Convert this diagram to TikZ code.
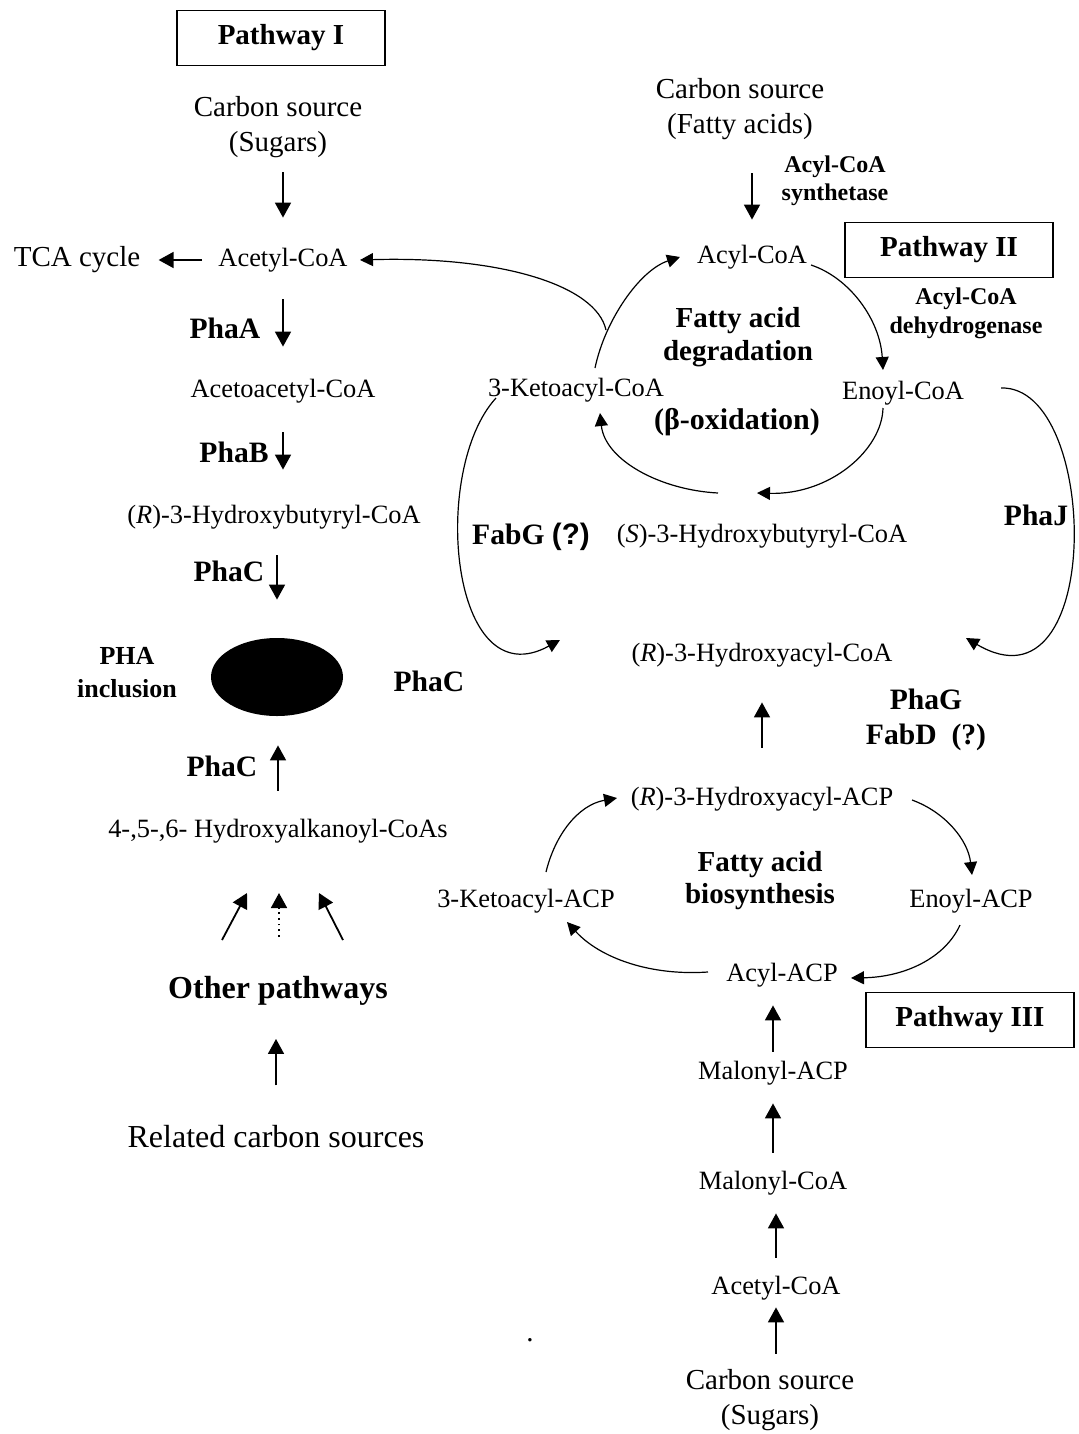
\documentclass[tikz,border=0pt]{standalone}
\usepackage{fontspec}
\setmainfont{Liberation Serif}
\newfontfamily\sansbf{Liberation Sans}
\usepackage{tikz}
\usetikzlibrary{arrows.meta,calc,shapes.geometric}

\begin{document}
\begin{tikzpicture}[
  x=0.5pt, y=-0.5pt,
  met/.style={font=\fontsize{13.2}{16}\selectfont, inner sep=2pt},
  src/.style={font=\fontsize{14.5}{17.5}\selectfont, align=center, inner sep=2pt},
  enz/.style={font=\bfseries\fontsize{14.8}{17.5}\selectfont, align=center, inner sep=2pt},
  enzsmall/.style={font=\bfseries\fontsize{12}{13.8}\selectfont, align=center},
  cyclabel/.style={font=\bfseries\fontsize{14.5}{16.5}\selectfont, align=center},
  pathbox/.style={draw, line width=0.7pt, minimum width=104pt, minimum height=27.5pt, font=\bfseries\fontsize{14.5}{17}\selectfont},
  arr/.style={-{Triangle[length=7.5pt,width=8pt]}, line width=0.9pt},
  carr/.style={-{Triangle[length=6.5pt,width=6.5pt]}, line width=0.6pt},
]
\useasboundingbox (0,0) rectangle (1079,1434);

% Pathway I
\node[pathbox] (p1) at (281,38) {Pathway I};
\node[src] (src1) at (278,127) {Carbon source\\(Sugars)};
\node[met] (acoa1) at (283,260) {Acetyl-CoA};
\node[src] (tca) at (77,260) {TCA cycle};
\node[met] (aacoa) at (283,391) {Acetoacetyl-CoA};
\node[met] (hbcoa) at (274,517) {(\textit{R})-3-Hydroxybutyryl-CoA};
\node[enz] (phaA) at (225,328) {PhaA};
\node[enz] (phaB) at (234,452) {PhaB};
\node[enz] (phaC1) at (229,571) {PhaC};
\node[ellipse, fill=black, minimum width=66pt, minimum height=39pt, inner sep=0pt] (pha) at (277,677) {};
\node[enz, font=\bfseries\fontsize{13}{16.5}\selectfont] (incl) at (127,673) {PHA\\inclusion};
\node[enz] (phaC2) at (429,681) {PhaC};
\node[enz] (phaC3) at (222,766) {PhaC};
\node[met] (hacoas) at (278,831) {4-,5-,6- Hydroxyalkanoyl-CoAs};
\node[enz, font=\bfseries\fontsize{16}{19}\selectfont] (others) at (278,991) {Other pathways};
\node[src, font=\fontsize{16}{19}\selectfont] (related) at (276,1137) {Related carbon sources};

\draw[arr, shorten <=5pt, shorten >=13pt] (acoa1.north |- src1.south) -- (acoa1.north);
\draw[arr, shorten <=6pt, shorten >=7pt] (acoa1.west) -- (tca.east);
\draw[arr, shorten <=11.5pt, shorten >=14pt] (acoa1.south) -- (acoa1.south |- aacoa.north);
\draw[arr, shorten <=12.5pt, shorten >=15.5pt] (aacoa.south) -- (aacoa.south |- hbcoa.north);
\draw[arr, shorten <=11pt, shorten >=19pt] (pha.north |- hbcoa.south) -- (pha.north);
\draw[arr, shorten <=12pt, shorten >=14.5pt] (hacoas.north) -- (hacoas.north |- pha.south);
\draw[arr] ($(others)+(-56,-51)$) -- ($(hacoas)+(-31,62)$);
\draw[arr, dotted] ($(others)+(1,-54)$) -- ($(hacoas)+(1,62)$);
\draw[arr] ($(others)+(65,-51)$) -- ($(hacoas)+(41,62)$);
\draw[arr, shorten <=18pt, shorten >=14.5pt] (related.north) -- (related.north |- others.south);

% Pathway II
\node[src] (src2) at (740,109) {Carbon source\\(Fatty acids)};
\node[enzsmall] (synth) at (835,181) {Acyl-CoA\\synthetase};
\node[met] (acylcoa) at (752,257) {Acyl-CoA};
\node[pathbox] (p2) at (949,250) {Pathway II};
\node[enzsmall, font=\bfseries\fontsize{12}{14.5}\selectfont] (dehyd) at (966,313) {Acyl-CoA\\dehydrogenase};
\node[cyclabel] (degr) at (738,337) {Fatty acid\\degradation};
\node[met] (ketocoa) at (576,390) {3-Ketoacyl-CoA};
\node[met] (enoylcoa) at (903,393) {Enoyl-CoA};
\node[cyclabel, font=\bfseries\fontsize{15}{17}\selectfont] (box) at (737,422) {(β-oxidation)};
\node[enz] (fabG) at (531,537) {FabG {\sansbf (?)}};
\node[met] (shcoa) at (762,536) {(\textit{S})-3-Hydroxybutyryl-CoA};
\node[enz] (phaJ) at (1036,515) {PhaJ};
\node[met] (rhcoa) at (762,655) {(\textit{R})-3-Hydroxyacyl-CoA};
\node[enz] (phaG) at (926,720) {PhaG\\FabD\ \ (?)};

\draw[arr, shorten <=14.5pt, shorten >=10.5pt] (acylcoa.north |- src2.south) -- (acylcoa.north);
\draw[carr] ($(acylcoa)+(59,8)$) .. controls (850,278) and (880,320) .. ($(enoylcoa)+(-20,-23)$);
\draw[carr] ($(enoylcoa)+(-20,15)$) .. controls (882,450) and (830,495) .. ($(shcoa)+(-5,-43)$);
\draw[carr] ($(shcoa)+(-44,-43)$) .. controls (660,490) and (605,460) .. ($(ketocoa)+(24,23)$);
\draw[carr] ($(ketocoa)+(19,-22)$) .. controls (605,320) and (640,270) .. ($(acylcoa)+(-72,0)$);
\coordinate (fork) at ($(ketocoa)+(30,-60)$);
\draw[carr] (fork) .. controls (596,285) and (500,256) .. ($(acoa1)+(77,0)$);
\draw[carr] ($(ketocoa)+(-80,8)$) .. controls (430,470) and (450,700) .. ($(rhcoa)+(-202,-15)$);
\draw[carr] ($(enoylcoa)+(98,-5)$) .. controls (1100,385) and (1105,720) .. ($(rhcoa)+(204,-17)$);

% Pathway III
\node[met] (rhacp) at (762,799) {(\textit{R})-3-Hydroxyacyl-ACP};
\node[cyclabel, font=\bfseries\fontsize{14.5}{16}\selectfont] (biosyn) at (760,881) {Fatty acid\\biosynthesis};
\node[met] (ketoacp) at (526,901) {3-Ketoacyl-ACP};
\node[met] (enoylacp) at (971,901) {Enoyl-ACP};
\node[met] (acylacp) at (782,975) {Acyl-ACP};
\node[pathbox] (p3) at (970,1020) {Pathway III};
\node[met] (malacp) at (773,1073) {Malonyl-ACP};
\node[met] (malcoa) at (773,1183) {Malonyl-CoA};
\node[met] (acoa2) at (776,1288) {Acetyl-CoA};
\node[src] (src3) at (770,1400) {Carbon source\\(Sugars)};
\node[src] (dot) at (530,1340) {.};

\draw[arr, shorten <=17.5pt, shorten >=15.5pt] (rhacp.north) -- (rhacp.north |- rhcoa.south);
\draw[carr] ($(ketoacp)+(20,-29)$) .. controls (555,835) and (578,805) .. ($(rhacp)+(-145,-1)$);
\draw[carr] ($(rhacp)+(150,1)$) .. controls (945,812) and (968,840) .. ($(enoylacp)+(1,-26)$);
\draw[carr] ($(enoylacp)+(-11,24)$) .. controls (945,958) and (905,977) .. ($(acylacp)+(69,3)$);
\draw[carr] ($(acylacp)+(-74,-3)$) .. controls (650,976) and (600,958) .. ($(ketoacp)+(41,21)$);
\draw[arr, shorten <=2.5pt, shorten >=7pt] (malacp.north) -- (malacp.north |- acylacp.south);
\draw[arr, shorten <=7pt, shorten >=7pt] (malcoa.north) -- (malcoa.north |- malacp.south);
\draw[arr, shorten <=7pt, shorten >=7pt] (acoa2.north) -- (acoa2.north |- malcoa.south);
\draw[arr, shorten <=5.5pt, shorten >=1.5pt] (acoa2.south |- src3.north) -- (acoa2.south);

\end{tikzpicture}
\end{document}
